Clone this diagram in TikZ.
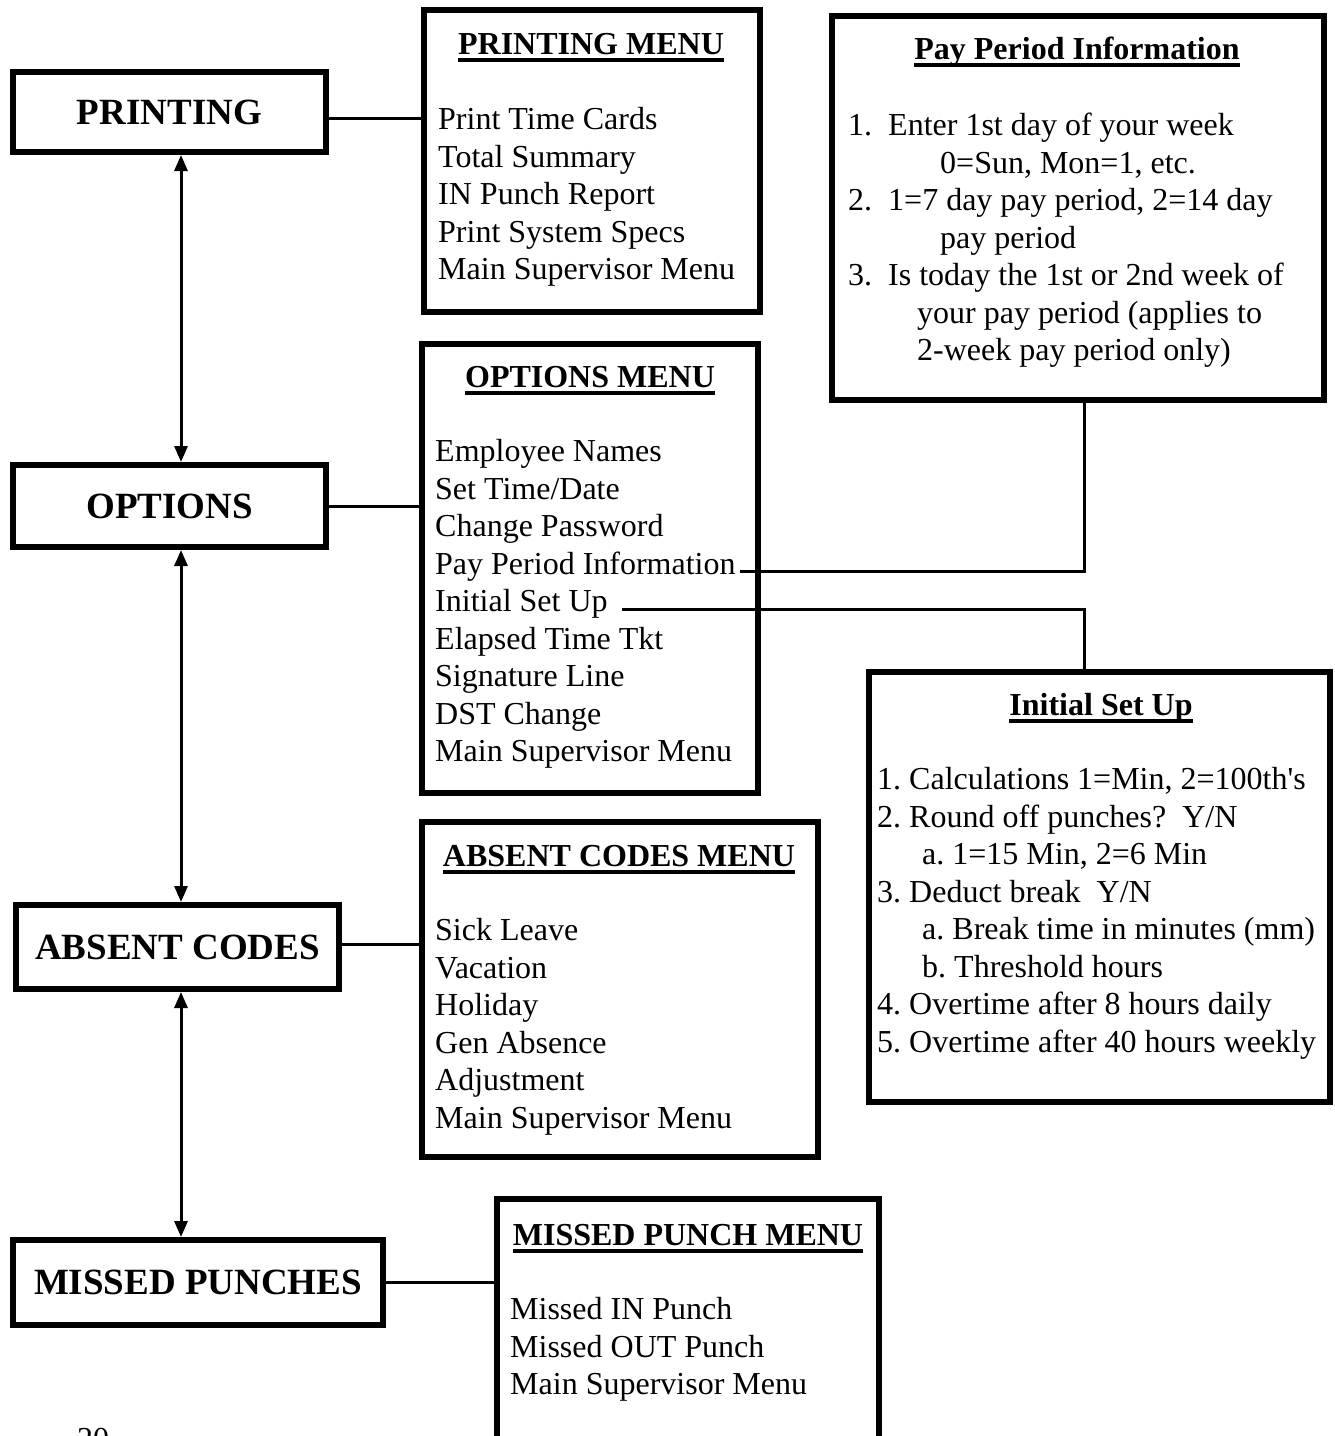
\documentclass[tikz,border=0pt]{standalone}
\usepackage{fontspec}
\setmainfont{Liberation Serif}
\usepackage{tikz}
\usetikzlibrary{arrows.meta, positioning, calc}
\frenchspacing

\newlength\ulwd
\newcommand{\ultitle}[1]{\settowidth{\ulwd}{#1}\rlap{#1}\rule[-7pt]{\ulwd}{3.2pt}}

\begin{document}
\begin{tikzpicture}[
    x=1pt, y=-1pt,
    mainbox/.style={draw, line width=6pt, rectangle, inner sep=0pt,
                    font=\fontsize{37}{44}\selectfont\bfseries},
    menubox/.style={draw, line width=6pt, rectangle, inner sep=0pt},
    menutitle/.style={inner sep=0pt, text height=22pt, text depth=7pt,
                      font=\fontsize{32}{37.5}\selectfont\bfseries},
    item/.style={anchor=west, inner sep=0pt, text height=22pt, text depth=7pt,
                 font=\fontsize{32}{37.5}\selectfont},
    link/.style={line width=3pt},
    dbl/.style={{Triangle[length=16pt,width=13pt]}-{Triangle[length=16pt,width=13pt]}, line width=3pt},
]
    \clip (0,0) rectangle (1335,1436);

    % left column
    \node[mainbox, minimum width=313pt, minimum height=80pt] (printing) at (169.5,112) {PRINTING};
    \node[mainbox, minimum width=313pt, minimum height=82pt] (options) at (169.5,506) {OPTIONS};
    \node[mainbox, minimum width=323pt, minimum height=84pt] (absent) at (177.5,947) {ABSENT CODES};
    \node[mainbox, minimum width=370pt, minimum height=85pt] (missed) at (198,1282.5) {MISSED PUNCHES};

    % menus
    \node[menubox, minimum width=336pt, minimum height=302pt] (prmenu) at (592,161) {};
    \node[menubox, minimum width=336pt, minimum height=449pt] (optmenu) at (590,568.5) {};
    \node[menubox, minimum width=396pt, minimum height=335pt] (absmenu) at (620,989.5) {};
    \node[menubox, minimum width=382pt, minimum height=281pt] (mismenu) at (688,1339.5) {};
    \node[menubox, minimum width=492pt, minimum height=384.5pt] (paybox) at (1078,207.75) {};
    \node[menubox, minimum width=461.5pt, minimum height=430pt] (initbox) at (1099.25,887) {};

    \node[menutitle] (prtitle) at (591,47) {\ultitle{PRINTING MENU}};
    \node[menutitle] (opttitle) at (590,380) {\ultitle{OPTIONS MENU}};
    \node[menutitle] (abstitle) at (619,859) {\ultitle{ABSENT CODES MENU}};
    \node[menutitle] (mistitle) at (688,1238) {\ultitle{MISSED PUNCH MENU}};
    \node[menutitle] (paytitle) at (1077,52) {\ultitle{Pay Period Information}};
    \node[menutitle] (inittitle) at (1101,708) {\ultitle{Initial Set Up}};

    \foreach \t [count=\i] in {Print Time Cards, Total Summary, IN Punch Report,
        Print System Specs, Main Supervisor Menu}
        \node[item] (pr\i) at (438,{122+37.5*(\i-1)}) {\t};
    \foreach \t [count=\i] in {Employee Names, Set Time/Date, Change Password,
        Pay Period Information, Initial Set Up, Elapsed Time Tkt, Signature Line,
        DST Change, Main Supervisor Menu}
        \node[item] (opt\i) at (435,{454+37.5*(\i-1)}) {\t};
    \foreach \t [count=\i] in {Sick Leave, Vacation, Holiday, Gen Absence,
        Adjustment, Main Supervisor Menu}
        \node[item] (abs\i) at (435,{933+37.5*(\i-1)}) {\t};
    \foreach \t [count=\i] in {Missed IN Punch, Missed OUT Punch, Main Supervisor Menu}
        \node[item] (mis\i) at (510,{1312+37.5*(\i-1)}) {\t};

    \node[item] (pay1) at (848,128) {1.\ \ Enter 1st day of your week};
    \node[item] (pay2) at (940,165.5) {0=Sun, Mon=1, etc.};
    \node[item] (pay3) at (848,203) {2.\ \ 1=7 day pay period, 2=14 day};
    \node[item] (pay4) at (940,240.5) {pay period};
    \node[item] (pay5) at (848,278) {3.\ \ Is today the 1st or 2nd week of};
    \node[item] (pay6) at (917,315.5) {your pay period (applies to};
    \node[item] (pay7) at (917,353) {2-week pay period only)};

    \node[item] (init1) at (877,782) {1. Calculations 1=Min, 2=100th\textquotesingle s};
    \node[item] (init2) at (877,819.5) {2. Round off punches?\ \ Y/N};
    \node[item] (init3) at (922,857) {a. 1=15 Min, 2=6 Min};
    \node[item] (init4) at (877,894.5) {3. Deduct break\ \ Y/N};
    \node[item] (init5) at (922,932) {a. Break time in minutes (mm)};
    \node[item] (init6) at (922,969.5) {b. Threshold hours};
    \node[item] (init7) at (877,1007) {4. Overtime after 8 hours daily};
    \node[item] (init8) at (877,1044.5) {5. Overtime after 40 hours weekly};

    \node[item, anchor=base west] (pagenum) at (77,1449) {20};

    % connectors
    \coordinate (ax) at (181,0);
    \draw[dbl] (printing.south -| ax) -- (options.north -| ax);
    \draw[dbl] (options.south -| ax) -- (absent.north -| ax);
    \draw[dbl] (absent.south -| ax) -- (missed.north -| ax);

    \draw[link] ([yshift=-6pt]printing.east) -- ([yshift=-6pt]printing.east -| prmenu.west);
    \draw[link] (options.east) -- (options.east -| optmenu.west);
    \draw[link] ([yshift=3pt]absent.east) -- ([yshift=3pt]absent.east -| absmenu.west);
    \draw[link] (missed.east) -- (missed.east -| mismenu.west);

    \draw[link] ([xshift=4pt,yshift=-5pt]opt4.east) -| ([xshift=6pt]paybox.south);
    \draw[link] ([xshift=14pt,yshift=-5pt]opt5.east) -| ([xshift=-15pt]initbox.north);
\end{tikzpicture}
\end{document}
